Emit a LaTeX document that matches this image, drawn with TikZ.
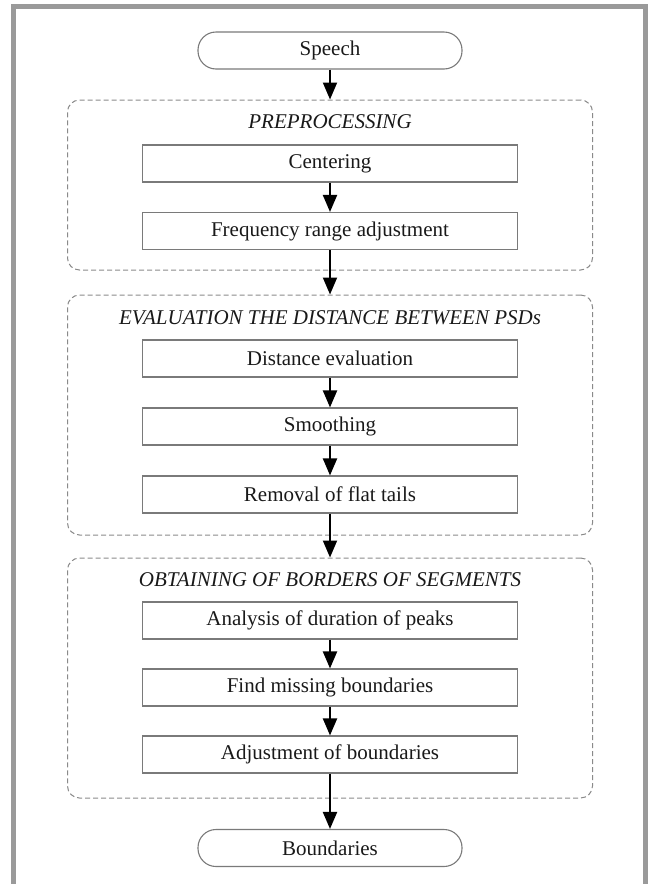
\documentclass[tikz,border=0pt]{standalone}
\usepackage{fontspec}
\setmainfont{Liberation Serif}
\usetikzlibrary{arrows.meta}
\definecolor{framegray}{HTML}{9A9A9A}
\definecolor{boxgray}{HTML}{7A7A7A}
\definecolor{dashgray}{HTML}{8A8A8A}
\begin{document}
\begin{tikzpicture}[x=1pt,y=1pt,
  every node/.style={font=\fontsize{21}{25}\selectfont, text=black!90},
  stepbox/.style={draw=boxgray, line width=1.1pt, minimum width=375pt, minimum height=37pt, inner sep=0pt},
  terminal/.style={draw=boxgray, line width=1.1pt, rounded corners=18pt, minimum width=264pt, minimum height=37pt, inner sep=0pt},
  groupbox/.style={draw=dashgray, line width=1pt, dash pattern=on 5pt off 3pt, rounded corners=12pt, minimum width=525pt, inner sep=0pt},
  grouptitle/.style={font=\fontsize{21}{25}\selectfont\itshape},
  flow/.style={draw=black, line width=2pt, -{Triangle[length=17pt,width=14pt]}}]
\useasboundingbox (0,0) rectangle (648,-884);
% outer frame, open at the bottom
\draw[framegray, line width=5pt, line join=miter] (13.5,-884) -- (13.5,-6.5) -- (645.5,-6.5) -- (645.5,-884);

% terminals
\node[terminal] (speech) at (330,-50.5) {Speech};
\node[terminal] (bound) at (330,-848) {Boundaries};

% stage groups
\node[groupbox, minimum height=170pt] (g1) at (330,-185) {};
\node[groupbox, minimum height=240pt] (g2) at (330,-415) {};
\node[groupbox, minimum height=240pt] (g3) at (330,-678) {};

\node[grouptitle] (t1) at (330,-122) {PREPROCESSING};
\node[grouptitle] (t2) at (330,-318) {EVALUATION THE DISTANCE BETWEEN PSDs};
\node[grouptitle] (t3) at (330,-580) {OBTAINING OF BORDERS OF SEGMENTS};

% processing steps
\node[stepbox] (cent) at (330,-163.5) {Centering};
\node[stepbox] (freq) at (330,-231) {Frequency range adjustment};
\node[stepbox] (dist) at (330,-358.5) {Distance evaluation};
\node[stepbox] (smooth) at (330,-426.5) {Smoothing};
\node[stepbox] (tails) at (330,-494.5) {Removal of flat tails};
\node[stepbox] (peaks) at (330,-620.5) {Analysis of duration of peaks};
\node[stepbox] (miss) at (330,-687.5) {Find missing boundaries};
\node[stepbox] (adj) at (330,-754.5) {Adjustment of boundaries};

% flow
\draw[flow] (speech.south) -- (g1.north);
\draw[flow] (cent.south) -- (freq.north);
\draw[flow] (freq.south) -- (g2.north);
\draw[flow] (dist.south) -- (smooth.north);
\draw[flow] (smooth.south) -- (tails.north);
\draw[flow] (tails.south) -- (g3.north);
\draw[flow] (peaks.south) -- (miss.north);
\draw[flow] (miss.south) -- (adj.north);
\draw[flow] (adj.south) -- (bound.north);
\end{tikzpicture}
\end{document}
